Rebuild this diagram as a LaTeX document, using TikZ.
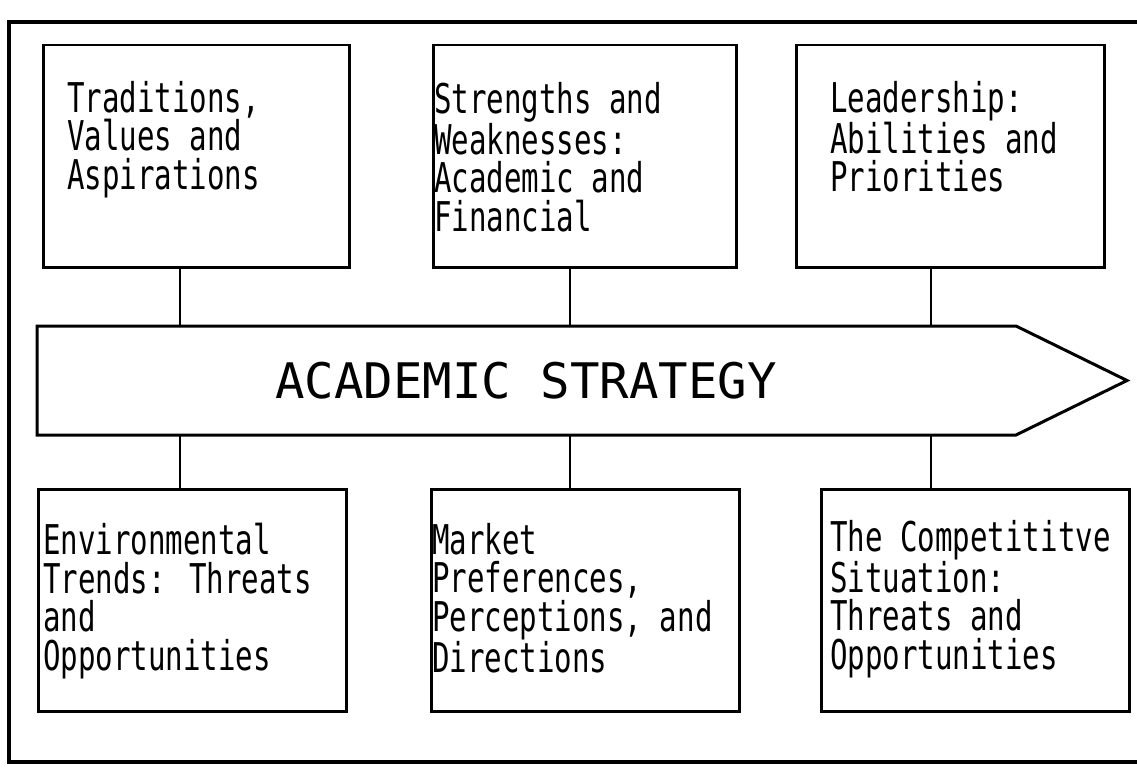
\documentclass[tikz,border=0pt]{standalone}
\usepackage{fontspec}
\newfontfamily\panelfont[FakeStretch=0.71]{DejaVu Sans Mono}
\newfontfamily\titlefont{DejaVu Sans Mono}
\usetikzlibrary{positioning}

\tikzset{
  panel/.style={draw, line width=2.5pt, anchor=north west, minimum height=222pt, inner sep=0pt},
  lbl/.style={anchor=north west, align=left, inner sep=0pt, font=\panelfont\fontsize{41}{38.5}\selectfont},
  link/.style={line width=2pt},
}

\begin{document}
\begin{tikzpicture}[x=1pt,y=-1pt]
\useasboundingbox (0,0) rectangle (1137,776);

% outer frame, open to the right
\draw[line width=4pt] (1137,22) -- (9,22) -- (9,762) -- (1137,762);

% columns of the connectors
\coordinate (c1) at (180,0);
\coordinate (c2) at (570,0);
\coordinate (c3) at (931,0);

% upper row
\node[panel, minimum width=306pt] (trad) at (42,44) {};
\node[panel, minimum width=303pt] (strength) at (432,44) {};
\node[panel, minimum width=308pt] (lead) at (795,44) {};
\node[lbl, below right=37pt and 25pt of trad.north west] (tradtxt) {Traditions,\\Values and\\Aspirations};
\node[lbl, below right=38pt and 2pt of strength.north west] (strengthtxt) {Strengths and\\Weaknesses:\\Academic and\\Financial};
\node[lbl, below right=37pt and 35pt of lead.north west] (leadtxt) {Leadership:\\Abilities and\\Priorities};

% the strategy arrow
\draw[line width=3pt] (37,326) coordinate (bandtop) -- (1016,326) -- (1127,380.5) coordinate (tip)
  -- (1016,435) -- (37,435) coordinate (bandbot) -- cycle;
\node[font=\titlefont\fontsize{49}{49}\selectfont] (title) at (526,380.5) {ACADEMIC STRATEGY};

% lower row
\node[panel, minimum width=308pt] (env) at (37,488) {};
\node[panel, minimum width=308pt] (market) at (430,488) {};
\node[panel, minimum width=308pt] (compet) at (820,488) {};
\node[lbl, below right=35pt and 6pt of env.north west] (envtxt) {Environmental\\Trends: Threats\\and\\Opportunities};
\node[lbl, below right=35pt and 2pt of market.north west] (markettxt) {Market\\Preferences,\\Perceptions, and\\Directions};
\node[lbl, below right=32pt and 10pt of compet.north west] (compettxt) {The Competititve\\Situation:\\Threats and\\Opportunities};

% connectors
\foreach \up/\down/\col in {trad/env/c1, strength/market/c2, lead/compet/c3} {
  \draw[link] (\up.south -| \col) -- (\col |- bandtop);
  \draw[link] (\col |- bandbot) -- (\down.north -| \col);
}

\end{tikzpicture}
\end{document}
